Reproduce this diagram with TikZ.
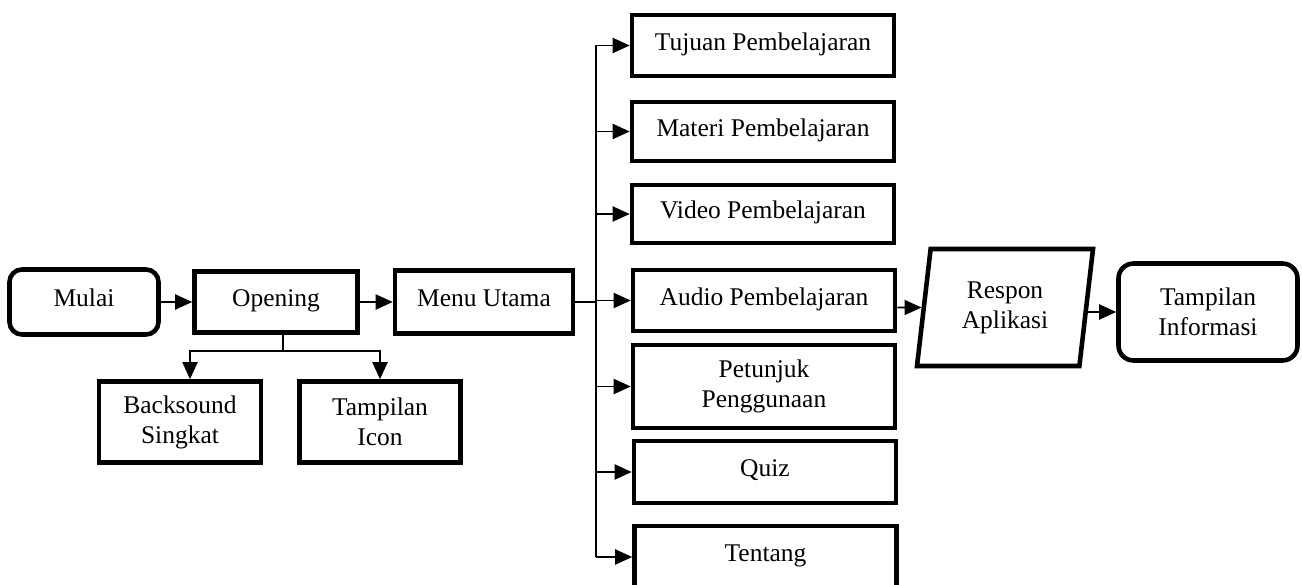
\documentclass[tikz,border=0pt]{standalone}
\usepackage{fontspec}
\setmainfont{Liberation Serif}
\usetikzlibrary{arrows.meta,positioning,shapes.geometric}

\begin{document}
\begin{tikzpicture}[
  box/.style={draw, line width=2.6pt, inner sep=2pt,
    font=\fontsize{14.5}{17}\selectfont, text height=9.6pt, text depth=4pt},
  stacked/.style={align=center, text height=, text depth=},
  terminal/.style={box, rounded corners=0.25cm},
  menuitem/.style={box, minimum width=5.24cm},
  line width=1.1pt, >={Triangle[length=0.34cm,width=0.3cm]}
]
\useasboundingbox (0,0) rectangle (26.04,-11.70);

\node[terminal, minimum width=2.98cm, minimum height=1.30cm] (mulai) at (1.68,-6.04) {Mulai};
\node[box, minimum width=3.26cm, minimum height=1.22cm] (opening) at (5.52,-6.04) {Opening};
\node[box, minimum width=3.56cm, minimum height=1.26cm] (menu) at (9.68,-6.04) {Menu Utama};
\node[box, stacked, minimum width=3.24cm, minimum height=1.62cm] (backsound) at (3.60,-8.44) {Backsound\\Singkat};
\node[box, stacked, minimum width=3.22cm, minimum height=1.62cm] (icon) at (7.60,-8.44) {Tampilan\\Icon};

\node[menuitem, minimum height=1.22cm] (tujuan) at (15.26,-0.91) {Tujuan Pembelajaran};
\node[menuitem, minimum height=1.18cm] (materi) at (15.26,-2.63) {Materi Pembelajaran};
\node[menuitem, minimum height=1.16cm] (video) at (15.26,-4.28) {Video Pembelajaran};
\node[menuitem, minimum height=1.22cm] (audio) at (15.28,-6.01) {Audio Pembelajaran};
\node[menuitem, stacked, minimum height=1.66cm] (petunjuk) at (15.28,-7.73) {Petunjuk\\Penggunaan};
\node[menuitem, minimum height=1.24cm] (quiz) at (15.30,-9.44) {Quiz};
\node[menuitem, minimum height=1.24cm] (tentang) at (15.31,-11.14) {Tentang};

\node[box, stacked, trapezium, trapezium left angle=77, trapezium right angle=103,
  trapezium stretches body, minimum width=3.52cm, minimum height=2.34cm] (respon) at (20.10,-6.15) {Respon\\Aplikasi};
\node[box, stacked, rounded corners=0.3cm, minimum width=3.58cm, minimum height=1.94cm] (info) at (24.16,-6.24) {Tampilan\\Informasi};

% start
\draw[->] (mulai) -- (opening);
\draw[->] (opening) -- (menu);

% opening branches
\coordinate (split) at (5.66,-7.02);
\draw (opening.south -| split) -- (split);
\draw[->] (split) -| ([xshift=0.2cm]backsound.north);
\draw[->] (split) -| (icon.north);

% menu bus
\coordinate (bus) at (11.92,-6.0);
\draw (menu.east) -- (bus |- menu.east);
\draw (bus |- tujuan) -- (bus |- tentang);
\draw[->] (bus |- tujuan) -- (tujuan);
\draw[->] (bus |- materi) -- (materi);
\draw[->] (bus |- video) -- (video);
\draw[->] (bus |- audio) -- (audio);
\draw[->] (bus |- petunjuk) -- (petunjuk);
\draw[->] (bus |- quiz) -- (quiz);
\draw[->] (bus |- tentang) -- (tentang);

% response
\draw[->] (audio.east |- respon) -- (respon.west);
\draw[->] (respon.east |- info) -- (info);
\end{tikzpicture}
\end{document}
